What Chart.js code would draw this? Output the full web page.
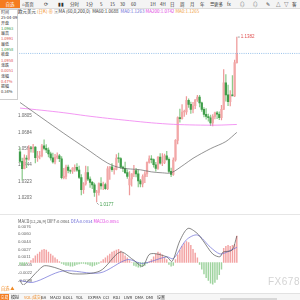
<!DOCTYPE html>
<html>
<head>
<meta charset="utf-8">
<script src="https://cdn.jsdelivr.net/npm/chart.js@4.4.1/dist/chart.umd.min.js"></script>
<style>
body{margin:0;width:300px;height:300px;overflow:hidden;background:#fff;position:relative;font-family:"Noto Sans CJK SC","Noto Sans",sans-serif;color:#333}
.abs{position:absolute;white-space:nowrap}
#bar{left:0;top:0;width:300px;height:8px;background:#f4f4f4;border-bottom:1px solid #ddd;font-size:4.5px;line-height:8px}
#bar span{position:absolute;top:0}
#home{left:0;width:20px;background:#f57c1f;color:#fff;text-align:center}
#head{left:18px;top:8px;font-size:4.5px;line-height:6px}
#panel{left:0;top:9px;width:16px;height:89px;background:#fff;border:1px solid #cfcfcf;border-left:none;font-size:4px;line-height:5.3px;padding-left:1px}
#macdHead{left:18px;top:218px;font-size:4.2px;line-height:6px}
#wm{left:268px;top:276px;font:10px "Liberation Sans",sans-serif;color:#d4d4d4;letter-spacing:0.5px}
#tabs{left:0;top:293px;width:300px;height:7px;background:#f6f6f6;border-top:1px solid #e2e2e2;font-size:4px;line-height:7px}
#tabs span{position:absolute;top:0}
canvas{position:absolute}
</style>
</head>
<body>
<div id="bar" class="abs">
 <span id="home">自选</span>
 <span style="left:22px">⌂首页</span><span style="left:44px">⟳</span><span style="left:58px">▮▮</span>
 <span style="left:70px">分时</span><span style="left:86px">1分</span><span style="left:100px">5</span><span style="left:110px">15</span>
 <span style="left:120px">30</span><span style="left:131px">60</span><span style="left:150px">1H</span><span style="left:160px">4H</span>
 <span style="left:170px">日</span><span style="left:180px">周</span><span style="left:190px">月</span><span style="left:200px">年</span>
 <span style="left:210px">☰更多</span><span style="left:227px">fx</span><span style="left:240px">◎</span><span style="left:253px">◎</span>
 <span style="left:266px">✎</span><span style="left:276px">△</span><span style="left:284px">▽</span><span style="left:292px">客</span>
</div>
<div id="head" class="abs"><span>欧元美元</span> <span style="color:#f08a24">(日K) ⊕</span> <span style="color:#999">▣</span>MA (60,0,200,0) &nbsp;MA60:1.0688 &nbsp;<span style="color:#6b6bd6">MA0:1.1263</span> <span style="color:#e040e0">MA200:1.0742</span> <span style="color:#f0a040">MA0:1.1265</span></div>
<canvas id="main" width="283" height="198" style="left:17px;top:16px"></canvas>
<div id="panel" class="abs">时间<br>25-04-09<br>开盘<br><span style="color:#3a9a45">1.0963</span><br>最高<br><span style="color:#e05050">1.0991</span><br>最低<br><span style="color:#3a9a45">1.0958</span><br>收盘<br><span style="color:#e05050">1.0958</span><br>涨跌<br><span style="color:#e05050">0.0051</span><br>涨幅<br><span style="color:#e05050">0.47%</span><br>振幅<br>0.34%</div>
<div style="left:0;top:214px;width:300px;height:1px;background:#e6e6e6" class="abs"></div>
<canvas id="macd" width="283" height="80" style="left:17px;top:214px"></canvas>
<div id="macdHead" class="abs"><span style="color:#555">MACD(12,26,9) DIFF:0.0061</span> <span style="color:#6b6bd6">DEA:0.0034</span> <span style="color:#e040e0">MACD:0.0051</span></div>
<div id="wm" class="abs">FX678</div>
<div class="abs" style="left:1px;top:285px;font-size:4.2px;color:#f08a24">自选 ▲</div>
<div id="tabs" class="abs">
 <span style="left:0;width:9px;background:#f57c1f;color:#fff;text-align:center">交易</span><span style="left:11px">模拟</span>
 <span style="left:24px;color:#f08a24">VOL(成交)</span><span style="left:41px">BA</span><span style="left:50px">MACD</span><span style="left:63px">BOLL</span>
 <span style="left:76px">YOL</span><span style="left:88px">EXPMA</span><span style="left:103px">CCI</span><span style="left:113px">KDJ</span>
 <span style="left:124px">LWR</span><span style="left:135px">DMA</span><span style="left:146px">DMI</span><span style="left:157px">设置</span>
 <span style="left:220px;top:4px;width:57px;height:3px;background:#d8d8d8"></span>
</div>

<script>
// EUR/USD daily, 2024-11-21 .. 2025-04-11
let opens =[1.0542,1.0472,1.0418,1.0495,1.0488,1.0567,1.0566,1.0577,1.0498,1.0509,1.0512,1.0586,1.0567,1.0555,1.0527,1.0497,1.0467,1.0502,1.0512,1.0491,
 1.0352,1.0362,1.0430,1.0405,1.0400,1.0422,1.0428,1.0408,1.0354,1.0265,1.0306,1.0390,1.0342,1.0318,1.0300,1.0244,1.0245,1.0309,1.0292,1.0302,
 1.0272,1.0418,1.0432,1.0411,1.0413,1.0495,1.0493,1.0430,1.0421,1.0389,1.0300,1.0344,1.0380,1.0404,1.0380,1.0329,1.0307,1.0360,1.0380,1.0464,
 1.0491,1.0485,1.0447,1.0421,1.0503,1.0459,1.0465,1.0513,1.0486,1.0399,1.0376,1.0482,1.0626,1.0792,1.0785,1.0833,1.0834,1.0918,1.0889,1.0853,
 1.0879,1.0922,1.0943,1.0900,1.0852,1.0816,1.0800,1.0791,1.0753,1.0801,1.0828,1.0817,1.0791,1.0852,1.1047,1.0959,1.0908,1.0959,1.0951,1.1195];
let highs =[1.0572,1.0495,1.0520,1.0515,1.0588,1.0582,1.0597,1.0580,1.0545,1.0545,1.0597,1.0629,1.0594,1.0571,1.0540,1.0532,1.0523,1.0535,1.0523,1.0507,
 1.0421,1.0445,1.0444,1.0410,1.0426,1.0446,1.0455,1.0438,1.0375,1.0316,1.0437,1.0434,1.0359,1.0325,1.0312,1.0260,1.0315,1.0353,1.0320,1.0312,
 1.0433,1.0434,1.0456,1.0425,1.0521,1.0533,1.0500,1.0438,1.0467,1.0410,1.0397,1.0382,1.0443,1.0420,1.0410,1.0340,1.0374,1.0397,1.0469,1.0513,
 1.0514,1.0490,1.0465,1.0506,1.0528,1.0528,1.0525,1.0545,1.0498,1.0422,1.0497,1.0631,1.0797,1.0854,1.0888,1.0847,1.0947,1.0930,1.0906,1.0904,
 1.0925,1.0955,1.0955,1.0905,1.0865,1.0859,1.0818,1.0810,1.0815,1.0833,1.0838,1.0835,1.0883,1.1144,1.1107,1.1030,1.0990,1.1100,1.1214,1.1382];
let lows  =[1.0461,1.0335,1.0417,1.0425,1.0480,1.0540,1.0537,1.0460,1.0472,1.0490,1.0505,1.0556,1.0536,1.0505,1.0480,1.0458,1.0454,1.0489,1.0470,1.0343,
 1.0343,1.0343,1.0387,1.0383,1.0384,1.0398,1.0398,1.0345,1.0226,1.0238,1.0298,1.0330,1.0281,1.0272,1.0215,1.0177,1.0225,1.0268,1.0265,1.0266,
 1.0265,1.0340,1.0398,1.0378,1.0410,1.0464,1.0420,1.0397,1.0381,1.0347,1.0226,1.0290,1.0360,1.0358,1.0285,1.0285,1.0285,1.0315,1.0360,1.0458,
 1.0460,1.0430,1.0400,1.0412,1.0452,1.0440,1.0455,1.0480,1.0390,1.0360,1.0369,1.0474,1.0600,1.0759,1.0780,1.0800,1.0815,1.0866,1.0822,1.0826,
 1.0858,1.0910,1.0871,1.0838,1.0797,1.0780,1.0767,1.0734,1.0732,1.0782,1.0785,1.0777,1.0776,1.0852,1.0913,1.0880,1.0878,1.0953,1.0945,1.1190];
let closes=[1.0472,1.0418,1.0495,1.0488,1.0567,1.0566,1.0577,1.0498,1.0509,1.0512,1.0586,1.0567,1.0555,1.0527,1.0497,1.0467,1.0502,1.0512,1.0491,1.0352,
 1.0362,1.0430,1.0405,1.0400,1.0422,1.0428,1.0408,1.0354,1.0265,1.0306,1.0390,1.0342,1.0318,1.0300,1.0244,1.0245,1.0309,1.0292,1.0302,1.0272,
 1.0418,1.0432,1.0411,1.0413,1.0495,1.0493,1.0430,1.0421,1.0389,1.0362,1.0344,1.0380,1.0404,1.0380,1.0329,1.0307,1.0360,1.0380,1.0464,1.0491,
 1.0485,1.0447,1.0421,1.0503,1.0459,1.0465,1.0513,1.0486,1.0399,1.0376,1.0482,1.0626,1.0792,1.0785,1.0833,1.0834,1.0918,1.0889,1.0853,1.0879,
 1.0922,1.0943,1.0900,1.0852,1.0816,1.0800,1.0791,1.0753,1.0801,1.0828,1.0817,1.0791,1.0852,1.1047,1.0959,1.0908,1.0959,1.0951,1.1195,1.1262];

// moving averages, sampled along the curve
let ma60Idx =[0,10,20,30,40,46,55,60,65,69,75,79,87,94,99];
let ma60    =[1.0903,1.0790,1.0677,1.0568,1.0459,1.0424,1.0410,1.0395,1.0388,1.0388,1.0449,1.0494,1.0565,1.0617,1.0684];
let ma200Idx=[0,10,20,30,40,50,60,70,80,90,99];
let ma200   =[1.0862,1.0846,1.0828,1.0806,1.0787,1.0770,1.0754,1.0743,1.0738,1.0737,1.0742];
let lastPrice=1.1262;
let priceTicks=[1.0805,1.0684,1.0564,1.0444,1.0323,1.0203];

// MACD(12,26,9)
let macdHist=[-0.0004,-0.0006,-0.0006,-0.0003,0,0.0004,0.0008,0.0014,0.0018,0.0022,0.0026,0.0028,0.0026,0.0022,0.0018,0.0014,0.0010,0.0006,0.0002,-0.0002,
 -0.0004,-0.0006,-0.0006,-0.0008,-0.0008,-0.0006,-0.0004,-0.0003,-0.0002,-0.0002,-0.0003,-0.0004,-0.0006,-0.0008,-0.0006,-0.0004,-0.0002,0.0002,0.0006,0.0010,
 0.0014,0.0018,0.0022,0.0024,0.0026,0.0028,0.0024,0.0020,0.0014,0.0010,0.0004,0,-0.0006,-0.0008,-0.0010,-0.0010,-0.0008,-0.0006,-0.0002,0.0002,
 0.0006,0.0012,0.0018,0.0022,0.0020,0.0016,0.0010,0.0006,-0.0004,-0.0008,-0.0006,0.0006,0.0016,0.0026,0.0034,0.0040,0.0044,0.0042,0.0036,0.0028,
 0.0020,0.0010,-0.0004,-0.0014,-0.0024,-0.0032,-0.0038,-0.0044,-0.0046,-0.0042,-0.0036,-0.0026,-0.0014,0.0030,0.0034,0.0036,0.0034,0.0036,0.0038,0.0056];
let difIdx=[0,1.5,10.5,13.7,18,24,36.5,45.7,51.6,56,59.4,67,69.4,73,76.7,80.8,83.6,88,91.3,92.7,96.8,99];
let dif   =[-0.0038,-0.0048,-0.0008,-0.0008,-0.0014,-0.0024,-0.0018,0.0022,0.0006,-0.0008,0.0018,0.0012,0.0002,0.0046,0.0072,0.0062,0.0046,0.0018,0.0012,0.0022,0.0026,0.0056];
let deaIdx=[0,6,19.6,36.5,49,56,67,70,76,81,87,91.3,94.5,99];
let dea   =[-0.0038,-0.0042,-0.0018,-0.0022,0.0006,-0.0002,0.0012,0.0008,0.0048,0.0058,0.0032,0.0018,0.0022,0.0032];
let macdTicks=[0.0076,0.0060,0.0044,0.0027,0.0011,-0.0005,-0.0022,-0.0038];

let monthIdx=[7,28,50,70,91];
let monthLabels=["2024/12","2025/01","2025/02","2025/03","2025/04"];

const UP='#f2a7a7', UPW='#ee9a9a', DOWN='#3f9d4a', DOWNW='#8ccb8c';
const XMIN=-1.37, XMAX=127.85;

let idx=closes.map((_,i)=>i);
let isUp=idx.map(i=>closes[i]>=opens[i]);

let markLabels={
  id:'markLabels',
  afterDatasetsDraw(chart){
    let c=chart.ctx, x=chart.scales.x, y=chart.scales.y;
    c.save();
    c.font='4.5px "Liberation Sans", sans-serif';
    c.textBaseline='middle';
    // highest
    let hx=x.getPixelForValue(99), hy=y.getPixelForValue(highs[99]);
    c.strokeStyle='#666'; c.lineWidth=0.6;
    c.beginPath(); c.moveTo(hx+1,hy); c.lineTo(hx+3,hy); c.stroke();
    c.fillStyle='#e05050'; c.fillText(highs[99].toFixed(4),hx+4,hy);
    // lowest
    let lx=x.getPixelForValue(35), ly=y.getPixelForValue(lows[35]);
    c.beginPath(); c.moveTo(lx,ly+1); c.lineTo(lx+2,ly+3); c.stroke();
    c.fillStyle='#3f9d4a'; c.fillText(lows[35].toFixed(4),lx+3,ly+3);
    c.restore();
  }
};

new Chart(document.getElementById('main'),{
  type:'bar',
  data:{datasets:[
    {type:'line',data:[{x:XMIN,y:lastPrice},{x:XMAX,y:lastPrice}],borderColor:'#7fb2e5',borderWidth:0.8,borderDash:[1,1.2],pointRadius:0,order:0},
    {type:'line',data:ma60Idx.map((v,k)=>({x:v,y:ma60[k]})),borderColor:'#666',borderWidth:0.7,pointRadius:0,tension:0.3,order:0},
    {type:'line',data:ma200Idx.map((v,k)=>({x:v,y:ma200[k]})),borderColor:'#f07ef0',borderWidth:0.8,pointRadius:0,tension:0.3,order:0},
    {data:idx.map(i=>({x:i,y:[opens[i],closes[i]]})),backgroundColor:idx.map(i=>isUp[i]?UP:DOWN),barThickness:1.6,minBarLength:0.6,grouped:false,order:1},
    {data:idx.map(i=>({x:i,y:[lows[i],highs[i]]})),backgroundColor:idx.map(i=>isUp[i]?UPW:DOWNW),barThickness:0.6,grouped:false,order:2}
  ]},
  options:{
    responsive:false,animation:false,devicePixelRatio:1,
    layout:{padding:0},
    plugins:{legend:{display:false},tooltip:{enabled:false}},
    scales:{
      x:{type:'linear',offset:false,min:XMIN,max:XMAX,display:false},
      y:{min:1.01136,max:1.1509,grid:{display:false},border:{display:false},
         ticks:{mirror:true,padding:1,color:'#666',font:{size:4.5,family:'"Liberation Sans", sans-serif'},callback:v=>v.toFixed(4)},
         afterBuildTicks:s=>{s.ticks=priceTicks.map(v=>({value:v}))},
         afterFit:s=>{s.width=0}}
    }
  },
  plugins:[markLabels]
});

new Chart(document.getElementById('macd'),{
  type:'bar',
  data:{datasets:[
    {type:'line',data:difIdx.map((v,k)=>({x:v,y:dif[k]})),borderColor:'#555',borderWidth:0.7,pointRadius:0,tension:0.3,order:0},
    {type:'line',data:deaIdx.map((v,k)=>({x:v,y:dea[k]})),borderColor:'#6b6bd6',borderWidth:0.7,pointRadius:0,tension:0.3,order:0},
    {data:macdHist.map((v,i)=>({x:i,y:v})),backgroundColor:macdHist.map(v=>v>=0?'#f3a3a3':'#9fd39f'),barThickness:0.8,grouped:false,order:1}
  ]},
  options:{
    responsive:false,animation:false,devicePixelRatio:1,
    layout:{padding:0},
    plugins:{legend:{display:false},tooltip:{enabled:false}},
    scales:{
      x:{type:'linear',offset:false,min:XMIN,max:XMAX,grid:{display:false},border:{display:false},
         ticks:{autoSkip:false,maxRotation:0,align:'start',padding:1,color:'#666',font:{size:4.5,family:'"Liberation Sans", sans-serif'},
                callback:v=>monthLabels[monthIdx.indexOf(v)]||''},
         afterBuildTicks:s=>{s.ticks=monthIdx.map(v=>({value:v}))},
         afterFit:s=>{s.height=9}},
      y:{min:-0.004764,max:0.009507,grid:{display:false},border:{display:false},
         ticks:{mirror:true,padding:1,color:'#666',font:{size:4.2,family:'"Liberation Sans", sans-serif'},callback:v=>v.toFixed(4)},
         afterBuildTicks:s=>{s.ticks=macdTicks.map(v=>({value:v}))},
         afterFit:s=>{s.width=0}}
    }
  }
});
</script>
</body>
</html>
